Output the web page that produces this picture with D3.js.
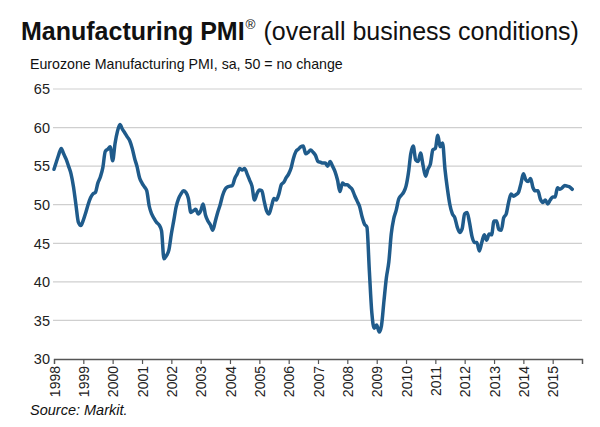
<!DOCTYPE html>
<html>
<head>
<meta charset="utf-8">
<script src="https://cdn.jsdelivr.net/npm/d3@7"></script>
<style>
  html, body { margin: 0; padding: 0; background: #fff; }
  svg { display: block; }
</style>
</head>
<body>
<svg id="chart" width="600" height="427"></svg>
<script>
// ---- Data (Eurozone Manufacturing PMI, monthly, Jan 1998 - Sep 2015) ----
const pmi1998 = [54.6, 55.6, 56.5, 57.3, 56.6, 55.9, 55.0, 54.0, 52.3, 50.0, 47.7, 47.3];
const pmi1999 = [48.0, 49.0, 50.0, 50.9, 51.4, 51.6, 52.8, 53.6, 54.8, 56.9, 57.2, 57.5];
const pmi2000 = [55.7, 58.0, 59.5, 60.4, 59.8, 59.3, 58.8, 58.3, 57.3, 56.0, 54.9, 53.5];
const pmi2001 = [52.8, 52.3, 51.8, 49.8, 48.8, 48.2, 47.7, 47.4, 46.6, 43.0, 43.4, 44.1];
const pmi2002 = [46.2, 48.0, 49.7, 50.8, 51.4, 51.8, 51.6, 50.8, 49.0, 49.2, 49.4, 48.8];
const pmi2003 = [49.2, 50.1, 48.7, 47.9, 47.4, 46.7, 47.8, 49.0, 50.0, 51.2, 52.0, 52.3];
const pmi2004 = [52.4, 52.5, 53.4, 54.0, 54.7, 54.5, 54.7, 54.0, 53.2, 52.4, 50.6, 51.4];
const pmi2005 = [51.9, 51.8, 50.5, 49.2, 48.8, 49.8, 50.8, 50.6, 51.4, 52.6, 52.9, 53.5];
const pmi2006 = [54.0, 54.8, 56.0, 56.9, 57.2, 57.5, 57.6, 56.6, 56.8, 57.1, 56.8, 56.4];
const pmi2007 = [55.6, 55.5, 55.4, 55.4, 55.0, 55.6, 55.0, 54.3, 53.2, 51.7, 52.8, 52.6];
const pmi2008 = [52.6, 52.3, 52.0, 51.2, 50.5, 49.8, 48.5, 47.5, 47.1, 41.5, 36.0, 34.0];
const pmi2009 = [34.4, 33.5, 34.3, 37.5, 40.5, 42.6, 46.2, 48.2, 49.3, 50.7, 51.2, 51.6];
const pmi2010 = [52.4, 54.2, 56.6, 57.6, 55.8, 55.6, 56.7, 55.1, 53.7, 54.6, 55.3, 57.1];
const pmi2011 = [57.3, 59.0, 57.5, 58.0, 54.6, 52.0, 50.0, 48.8, 48.3, 47.1, 46.4, 46.9];
const pmi2012 = [48.8, 49.0, 47.7, 45.9, 45.1, 45.1, 44.0, 45.1, 46.1, 45.4, 46.2, 46.1];
const pmi2013 = [47.9, 47.9, 46.8, 46.7, 48.3, 48.8, 50.3, 51.4, 51.1, 51.3, 51.6, 52.7];
const pmi2014 = [54.0, 53.2, 53.0, 53.4, 52.2, 51.8, 51.8, 50.7, 50.3, 50.6, 50.1, 50.6];
const pmi2015 = [51.0, 51.0, 52.2, 52.0, 52.2, 52.5, 52.4, 52.3, 52.0];

const years = [1998, 1999, 2000, 2001, 2002, 2003, 2004, 2005, 2006, 2007, 2008,
               2009, 2010, 2011, 2012, 2013, 2014, 2015];
const yearSeries = [pmi1998, pmi1999, pmi2000, pmi2001, pmi2002, pmi2003, pmi2004, pmi2005,
                    pmi2006, pmi2007, pmi2008, pmi2009, pmi2010, pmi2011, pmi2012, pmi2013,
                    pmi2014, pmi2015];
const yTicks = [30, 35, 40, 45, 50, 55, 60, 65];

const titleBold = "Manufacturing PMI";
const titleRest = " (overall business conditions)";
const subtitle = "Eurozone Manufacturing PMI, sa, 50 = no change";
const source = "Source: Markit.";

// ---- Build table ----
const data = [];
years.forEach((yr, i) => {
  yearSeries[i].forEach((v, m) => data.push({ date: new Date(yr, m, 1), value: v }));
});

// ---- Layout ----
const svg = d3.select("#chart");
const plotLeft = 54, plotRight = 582, plotTop = 89, plotBottom = 359;
const font = "Arial, 'Liberation Sans', Helvetica, sans-serif";

const x = d3.scaleTime()
  .domain([new Date(1998, 0, 1), new Date(2016, 0, 1)])
  .range([plotLeft, plotRight]);
const y = d3.scaleLinear().domain([30, 65]).range([plotBottom, plotTop]);

// Title
const title = svg.append("text")
  .attr("x", 21).attr("y", 40)
  .attr("font-family", font).attr("font-size", 25).attr("fill", "#111");
title.append("tspan").attr("font-weight", "bold").text(titleBold);
title.append("tspan").attr("font-size", 13.5).attr("dy", -11).attr("dx", 1).text("®");
title.append("tspan").attr("dy", 11).attr("dx", 1).text(titleRest);

svg.append("text")
  .attr("x", 30).attr("y", 69)
  .attr("font-family", font).attr("font-size", 14.2).attr("fill", "#111")
  .text(subtitle);

// Gridlines
svg.append("g").selectAll("line")
  .data(yTicks.filter(d => d !== 30))
  .join("line")
  .attr("x1", plotLeft - 1).attr("x2", plotRight)
  .attr("y1", d => y(d)).attr("y2", d => y(d))
  .attr("stroke", "#cfcfcf").attr("stroke-width", 1.2);

// Y labels
svg.append("g").selectAll("text")
  .data(yTicks)
  .join("text")
  .attr("x", 50).attr("y", d => y(d))
  .attr("dy", "0.36em")
  .attr("text-anchor", "end")
  .attr("font-family", font).attr("font-size", 14.5).attr("fill", "#222")
  .text(d => d);

// X axis
const xAxis = d3.axisBottom(x)
  .tickValues(years.concat([2016]).map(yr => new Date(yr, 0, 1)))
  .tickSize(5)
  .tickFormat(d => d.getFullYear() <= 2015 ? d3.timeFormat("%Y")(d) : "");
const gx = svg.append("g")
  .attr("transform", `translate(0,${plotBottom})`)
  .call(xAxis);
gx.select(".domain").attr("stroke", "#555").attr("stroke-width", 1.3);
gx.selectAll(".tick line").attr("stroke", "#555").attr("stroke-width", 1.2);
gx.selectAll(".tick text")
  .attr("font-family", font).attr("font-size", 14).attr("fill", "#222")
  .attr("transform", "rotate(-90)")
  .attr("text-anchor", "end")
  .attr("x", -7).attr("y", 0).attr("dy", "0.36em");

// Line
const line = d3.line()
  .x(d => x(d.date))
  .y(d => y(d.value))
  .curve(d3.curveMonotoneX);

svg.append("path")
  .datum(data)
  .attr("fill", "none")
  .attr("stroke", "#1f5b8b")
  .attr("stroke-width", 3.5)
  .attr("stroke-linejoin", "round")
  .attr("stroke-linecap", "round")
  .attr("d", line);

// Source
svg.append("text")
  .attr("x", 30).attr("y", 415)
  .attr("font-family", font).attr("font-size", 14.5).attr("font-style", "italic")
  .attr("fill", "#111")
  .text(source);
</script>
</body>
</html>
